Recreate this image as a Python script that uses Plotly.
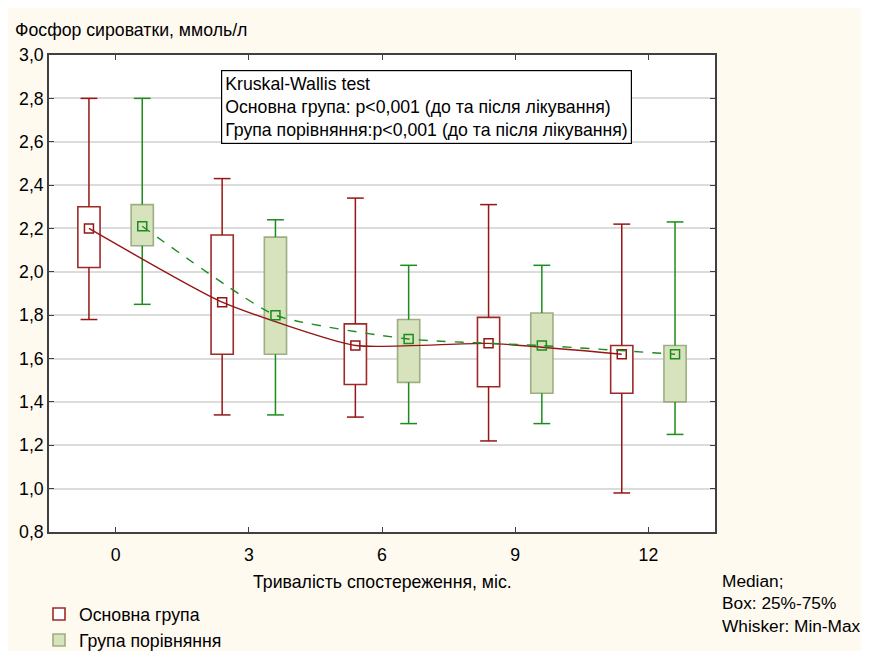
import plotly.graph_objects as go

# ---- data ----
months = [0, 3, 6, 9, 12]
groups = ["Основна група", "Група порівняння"]

main_min = [1.78, 1.34, 1.33, 1.22, 0.98]
main_q1 = [2.02, 1.62, 1.48, 1.47, 1.44]
main_med = [2.20, 1.86, 1.66, 1.67, 1.62]
main_q3 = [2.30, 2.17, 1.76, 1.79, 1.66]
main_max = [2.80, 2.43, 2.34, 2.31, 2.22]

cmp_min = [1.85, 1.34, 1.30, 1.30, 1.25]
cmp_q1 = [2.12, 1.62, 1.49, 1.44, 1.40]
cmp_med = [2.21, 1.80, 1.69, 1.66, 1.62]
cmp_q3 = [2.31, 2.16, 1.78, 1.81, 1.66]
cmp_max = [2.80, 2.24, 2.03, 2.03, 2.23]

y_title = "Фосфор сироватки, ммоль/л"
x_title = "Тривалість спостереження, міс."
test_text = ("Kruskal-Wallis test<br>"
             "Основна група: p<0,001 (до та після лікування)<br>"
             "Група порівняння:p<0,001 (до та після лікування)")
note_text = "Median;<br>Box: 25%-75%<br>Whisker: Min-Max"

# ---- styling ----
FONT = "Liberation Sans, Arial, sans-serif"
FS = 17.7
offset = 0.6
series = [
    dict(name=groups[0], mn=main_min, q1=main_q1, med=main_med, q3=main_q3, mx=main_max,
         dx=-offset, line="#961515", fill="#FFFFFF", border="#9E2A2A", dash="solid"),
    dict(name=groups[1], mn=cmp_min, q1=cmp_q1, med=cmp_med, q3=cmp_q3, mx=cmp_max,
         dx=offset, line="#1C8C1C", fill="#D6E3BC", border="#9EAE84", dash="dash"),
]

W, H = 853, 643
ML, MR, MT, MB = 41, 146, 47, 119
PW, PH = W - ML - MR, H - MT - MB

fig = go.Figure()

for s in series:
    xs = [m + s["dx"] for m in months]
    fig.add_trace(go.Bar(
        x=xs, base=s["q1"], y=[b - a for a, b in zip(s["q1"], s["q3"])],
        width=0.5, marker=dict(color=s["fill"], line=dict(color=s["border"], width=1.6)),
        name=s["name"], showlegend=True, hoverinfo="skip"))

for s in series:
    xs = [m + s["dx"] for m in months]
    wx, wy = [], []
    for x, a, b, c, d in zip(xs, s["mn"], s["q1"], s["q3"], s["mx"]):
        wx += [x, x, None, x, x, None]
        wy += [a, b, None, c, d, None]
    fig.add_trace(go.Scatter(x=wx, y=wy, mode="lines", line=dict(color=s["line"], width=1.5),
                             showlegend=False, hoverinfo="skip"))
    fig.add_trace(go.Scatter(x=xs + xs, y=s["mn"] + s["mx"], mode="markers",
                             marker=dict(symbol="line-ew", size=12,
                                         line=dict(color=s["line"], width=1.5)),
                             showlegend=False, hoverinfo="skip"))

for s in series:
    xs = [m + s["dx"] for m in months]
    fig.add_trace(go.Scatter(x=xs, y=s["med"], mode="lines+markers",
                             line=dict(color=s["line"], width=1.4, dash=s["dash"],
                                       shape="spline", smoothing=0.5),
                             marker=dict(symbol="square-open", size=9,
                                         line=dict(color=s["line"], width=1.5)),
                             showlegend=False))

fig.update_layout(
    width=W, height=H,
    margin=dict(l=ML, r=MR, t=MT, b=MB, autoexpand=False),
    paper_bgcolor="#FFFAF0", plot_bgcolor="#FFFFFF",
    barmode="overlay",
    separators=",.",
    font=dict(family=FONT, size=FS, color="#000000"),
    xaxis=dict(range=[-1.5, 13.5], tickvals=months, ticktext=[str(m) for m in months],
               showgrid=False, zeroline=False, showline=True, linecolor="#404040", linewidth=1.5,
               mirror="ticks", ticks="inside", ticklen=5, tickcolor="#404040",
               ticklabelstandoff=6, tickfont=dict(size=FS)),
    yaxis=dict(range=[0.8, 3.0], dtick=0.2, tick0=0.8, tickformat=".1f",
               showgrid=True, gridcolor="#DCDCDC", gridwidth=1.5, zeroline=False,
               showline=True, linecolor="#404040", linewidth=1.5,
               mirror="ticks", ticks="inside", ticklen=5, tickcolor="#404040",
               tickfont=dict(size=FS)),
    legend=dict(x=-10 / PW, y=-(MB + 8) / PH, xanchor="left", yanchor="bottom",
                bgcolor="rgba(0,0,0,0)", font=dict(size=FS), tracegroupgap=0, itemwidth=30),
    annotations=[
        dict(text=y_title, xref="paper", yref="paper", x=-36 / PW, y=1 + 25 / PH,
             xanchor="left", yanchor="middle", showarrow=False, font=dict(size=FS)),
        dict(text=x_title, xref="paper", yref="paper", x=0.5, y=-50 / PH,
             xanchor="center", yanchor="middle", showarrow=False, font=dict(size=FS)),
        dict(text=note_text, xref="paper", yref="paper", x=1 + 5 / PW, y=-71 / PH,
             xanchor="left", yanchor="middle", align="left", showarrow=False,
             font=dict(size=17.3)),
        dict(text=test_text, xref="paper", yref="paper", x=172 / PW, y=1 - 15 / PH,
             xanchor="left", yanchor="top", align="left", showarrow=False,
             bgcolor="#FFFFFF", bordercolor="#000000", borderwidth=1.2, borderpad=3,
             font=dict(size=FS)),
    ],
)

fig.write_html("out.html")
